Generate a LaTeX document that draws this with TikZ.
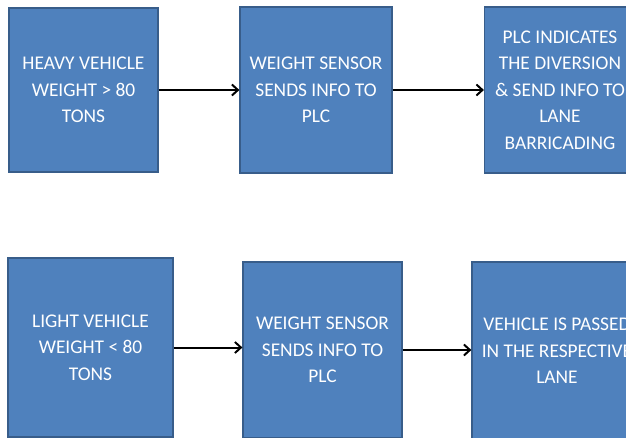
\documentclass[tikz,border=0pt]{standalone}
\usepackage{fontspec}
\setmainfont{Carlito}
\usetikzlibrary{arrows.meta}
\definecolor{boxfill}{HTML}{4F81BD}
\definecolor{boxline}{HTML}{385D8A}
\tikzset{
  flowbox/.style={draw=boxline, line width=1.2pt, fill=boxfill, text=white,
    align=center, inner sep=0pt, font=\fontsize{19.4}{26.5}\selectfont},
  flowarrow/.style={draw=black, line width=2pt, -{Straight Barb[length=6pt,width=11pt,line width=2pt]}}
}
\begin{document}
\begin{tikzpicture}[x=1pt,y=-1pt]
\useasboundingbox (0,0) rectangle (626,438);
\fill[white] (0,0) rectangle (626,438);
\node[flowbox, minimum width=149pt, minimum height=164pt] (b1) at (83.5,90) {HEAVY VEHICLE\\WEIGHT > 80\\TONS};
\node[flowbox, minimum width=152pt, minimum height=166pt] (b2) at (316,90) {WEIGHT SENSOR\\SENDS INFO TO\\PLC};
\node[flowbox, minimum width=151pt, minimum height=166pt] (b3) at (560,90) {PLC INDICATES\\THE DIVERSION\\\& SEND INFO TO\\LANE\\BARRICADING};
\node[flowbox, minimum width=165pt, minimum height=179pt] (b4) at (90.5,347.5) {LIGHT VEHICLE\\WEIGHT < 80\\TONS};
\node[flowbox, minimum width=159pt, minimum height=176pt] (b5) at (322.5,350) {WEIGHT SENSOR\\SENDS INFO TO\\PLC};
\node[flowbox, minimum width=170pt, minimum height=178pt] (b6) at (557,351) {VEHICLE IS PASSED\\IN THE RESPECTIVE\\LANE};
\draw[flowarrow] (b1.east) -- (b1.east -| b2.west);
\draw[flowarrow] (b2.east) -- (b2.east -| b3.west);
\draw[flowarrow] (b4.east) -- (b4.east -| b5.west);
\draw[flowarrow] (b5.east) -- (b5.east -| b6.west);
\end{tikzpicture}
\end{document}
